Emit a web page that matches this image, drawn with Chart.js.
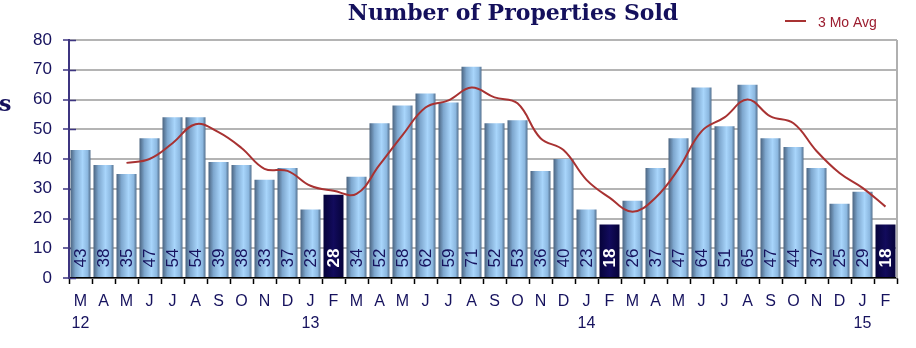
<!DOCTYPE html>
<html>
<head>
<meta charset="utf-8">
<script src="https://cdn.jsdelivr.net/npm/chart.js@4.4.1/dist/chart.umd.min.js"></script>
<style>
  html, body { margin: 0; padding: 0; background: #fff; }
  #wrap { width: 916px; height: 348px; position: relative; }
</style>
</head>
<body>
<div id="wrap"><canvas id="chart"></canvas></div>
<script>
// Months from Mar 2012 to Feb 2015
const months = ['M','A','M','J','J','A','S','O','N','D','J','F',
                'M','A','M','J','J','A','S','O','N','D','J','F',
                'M','A','M','J','J','A','S','O','N','D','J','F'];
const years = { 0: '12', 10: '13', 22: '14', 34: '15' };

const sold = [43, 38, 35, 47, 54, 54, 39, 38, 33, 37, 23, 28,
              34, 52, 58, 62, 59, 71, 52, 53, 36, 40, 23, 18,
              26, 37, 47, 64, 51, 65, 47, 44, 37, 25, 29, 18];

const avg3 = [null, null, 38.7, 40, 45.3, 51.7, 49, 43.7, 36.7, 36, 31, 29.3,
              28.3, 38, 48, 57.3, 59.7, 64, 60.7, 58.7, 47, 43, 33, 27,
              22.3, 27, 36.7, 49.3, 54, 60, 54.3, 52, 42.7, 35.3, 30.3, 24];

const highlight = [11, 23, 35]; // February bars shown dark
const yTicks = [0, 10, 20, 30, 40, 50, 60, 70, 80];

const labels = months.map((m, i) => years[i] ? [m, years[i]] : m);
const navy = '#16125e';

function barFill(context) {
  const chart = context.chart;
  const xs = chart.scales.x;
  if (!xs || !chart.chartArea) return '#8fbde6';
  const cx = xs.getPixelForValue(context.dataIndex);
  const w = xs.width / months.length * 0.87;
  const g = chart.ctx.createLinearGradient(cx - w / 2, 0, cx + w / 2, 0);
  if (highlight.includes(context.dataIndex)) {
    g.addColorStop(0, '#06033a');
    g.addColorStop(0.5, '#120b5c');
    g.addColorStop(1, '#06033a');
  } else {
    g.addColorStop(0, '#4b6480');
    g.addColorStop(0.25, '#7ea7ce');
    g.addColorStop(0.6, '#a8d5fb');
    g.addColorStop(0.85, '#8cb8e0');
    g.addColorStop(1, '#54708e');
  }
  return g;
}

const decor = {
  id: 'decor',
  beforeDatasetsDraw(chart) {
    const { ctx, chartArea: a, scales: { y } } = chart;
    ctx.save();
    // right border
    ctx.strokeStyle = '#b0b0b0';
    ctx.lineWidth = 2;
    ctx.beginPath();
    ctx.moveTo(a.right, a.top);
    ctx.lineTo(a.right, a.bottom);
    ctx.stroke();
    // small tick stubs inside the y axis
    ctx.strokeStyle = '#3d3580';
    ctx.lineWidth = 1.5;
    yTicks.forEach(v => {
      const py = Math.round(y.getPixelForValue(v)) + 0.5;
      ctx.beginPath();
      ctx.moveTo(a.left, py);
      ctx.lineTo(a.left + 7, py);
      ctx.stroke();
    });
    ctx.restore();
  },
  afterDatasetsDraw(chart) {
    const { ctx, chartArea: a } = chart;
    const meta = chart.getDatasetMeta(1);
    ctx.save();
    ctx.textAlign = 'center';
    ctx.textBaseline = 'middle';
    meta.data.forEach((bar, i) => {
      const dark = highlight.includes(i);
      ctx.save();
      ctx.translate(bar.x + 1, a.bottom - 20);
      ctx.rotate(-Math.PI / 2);
      ctx.font = (dark ? 'bold ' : '') + '17px "Liberation Sans", Arial, sans-serif';
      ctx.fillStyle = dark ? '#ffffff' : navy;
      ctx.fillText(String(sold[i]), 0, 0);
      ctx.restore();
    });
    ctx.restore();
  },
  afterDraw(chart) {
    const { ctx } = chart;
    ctx.save();
    // title
    ctx.fillStyle = '#14105c';
    ctx.font = 'bold 22px "DejaVu Serif", Georgia, serif';
    ctx.textAlign = 'center';
    ctx.textBaseline = 'alphabetic';
    ctx.fillText('Number of Properties Sold', 513, 20);
    // clipped axis title fragment
    ctx.textAlign = 'left';
    ctx.font = 'bold 22px "DejaVu Serif", serif';
    ctx.fillText('s', -1, 111);
    // legend
    ctx.strokeStyle = '#a83232';
    ctx.lineWidth = 2;
    ctx.beginPath();
    ctx.moveTo(785, 21);
    ctx.lineTo(806, 21);
    ctx.stroke();
    ctx.fillStyle = '#9b1c2e';
    ctx.font = '14px "Liberation Sans", Arial, sans-serif';
    ctx.textBaseline = 'middle';
    ctx.fillText('3 Mo Avg', 818, 23);
    ctx.restore();
  }
};

new Chart(document.getElementById('chart'), {
  data: {
    labels: labels,
    datasets: [
      {
        type: 'line',
        label: '3 Mo Avg',
        data: avg3,
        borderColor: '#a83232',
        borderWidth: 2,
        pointRadius: 0,
        tension: 0.4,
        fill: false
      },
      {
        type: 'bar',
        label: 'Sold',
        data: sold,
        backgroundColor: barFill,
        borderWidth: 0,
        barPercentage: 0.87,
        categoryPercentage: 1
      }
    ]
  },
  options: {
    responsive: true,
    maintainAspectRatio: false,
    animation: false,
    layout: { padding: { top: 40, right: 19, left: 0, bottom: 0 } },
    plugins: {
      legend: { display: false },
      title: { display: false },
      tooltip: { enabled: false }
    },
    scales: {
      x: {
        afterFit: s => { s.height = 70; },
        grid: {
          offset: true,
          drawOnChartArea: false,
          tickLength: 6,
          tickColor: '#000',
          tickWidth: 1.5
        },
        border: { color: '#000', width: 1.5 },
        ticks: {
          color: navy,
          font: { family: '"Liberation Sans", Arial, sans-serif', size: 16, lineHeight: 1.35 },
          padding: 7,
          maxRotation: 0,
          autoSkip: false
        }
      },
      y: {
        min: 0,
        max: 80,
        afterFit: s => { s.width = 69; },
        afterBuildTicks: s => { s.ticks = yTicks.map(v => ({ value: v })); },
        grid: {
          color: '#b4b4b4',
          lineWidth: 2,
          tickLength: 6,
          tickColor: '#3d3580',
          tickWidth: 1.5
        },
        border: { color: '#3d3580', width: 2 },
        ticks: {
          color: navy,
          font: { family: '"Liberation Sans", Arial, sans-serif', size: 17 },
          padding: 11
        }
      }
    }
  },
  plugins: [decor]
});
</script>
</body>
</html>
